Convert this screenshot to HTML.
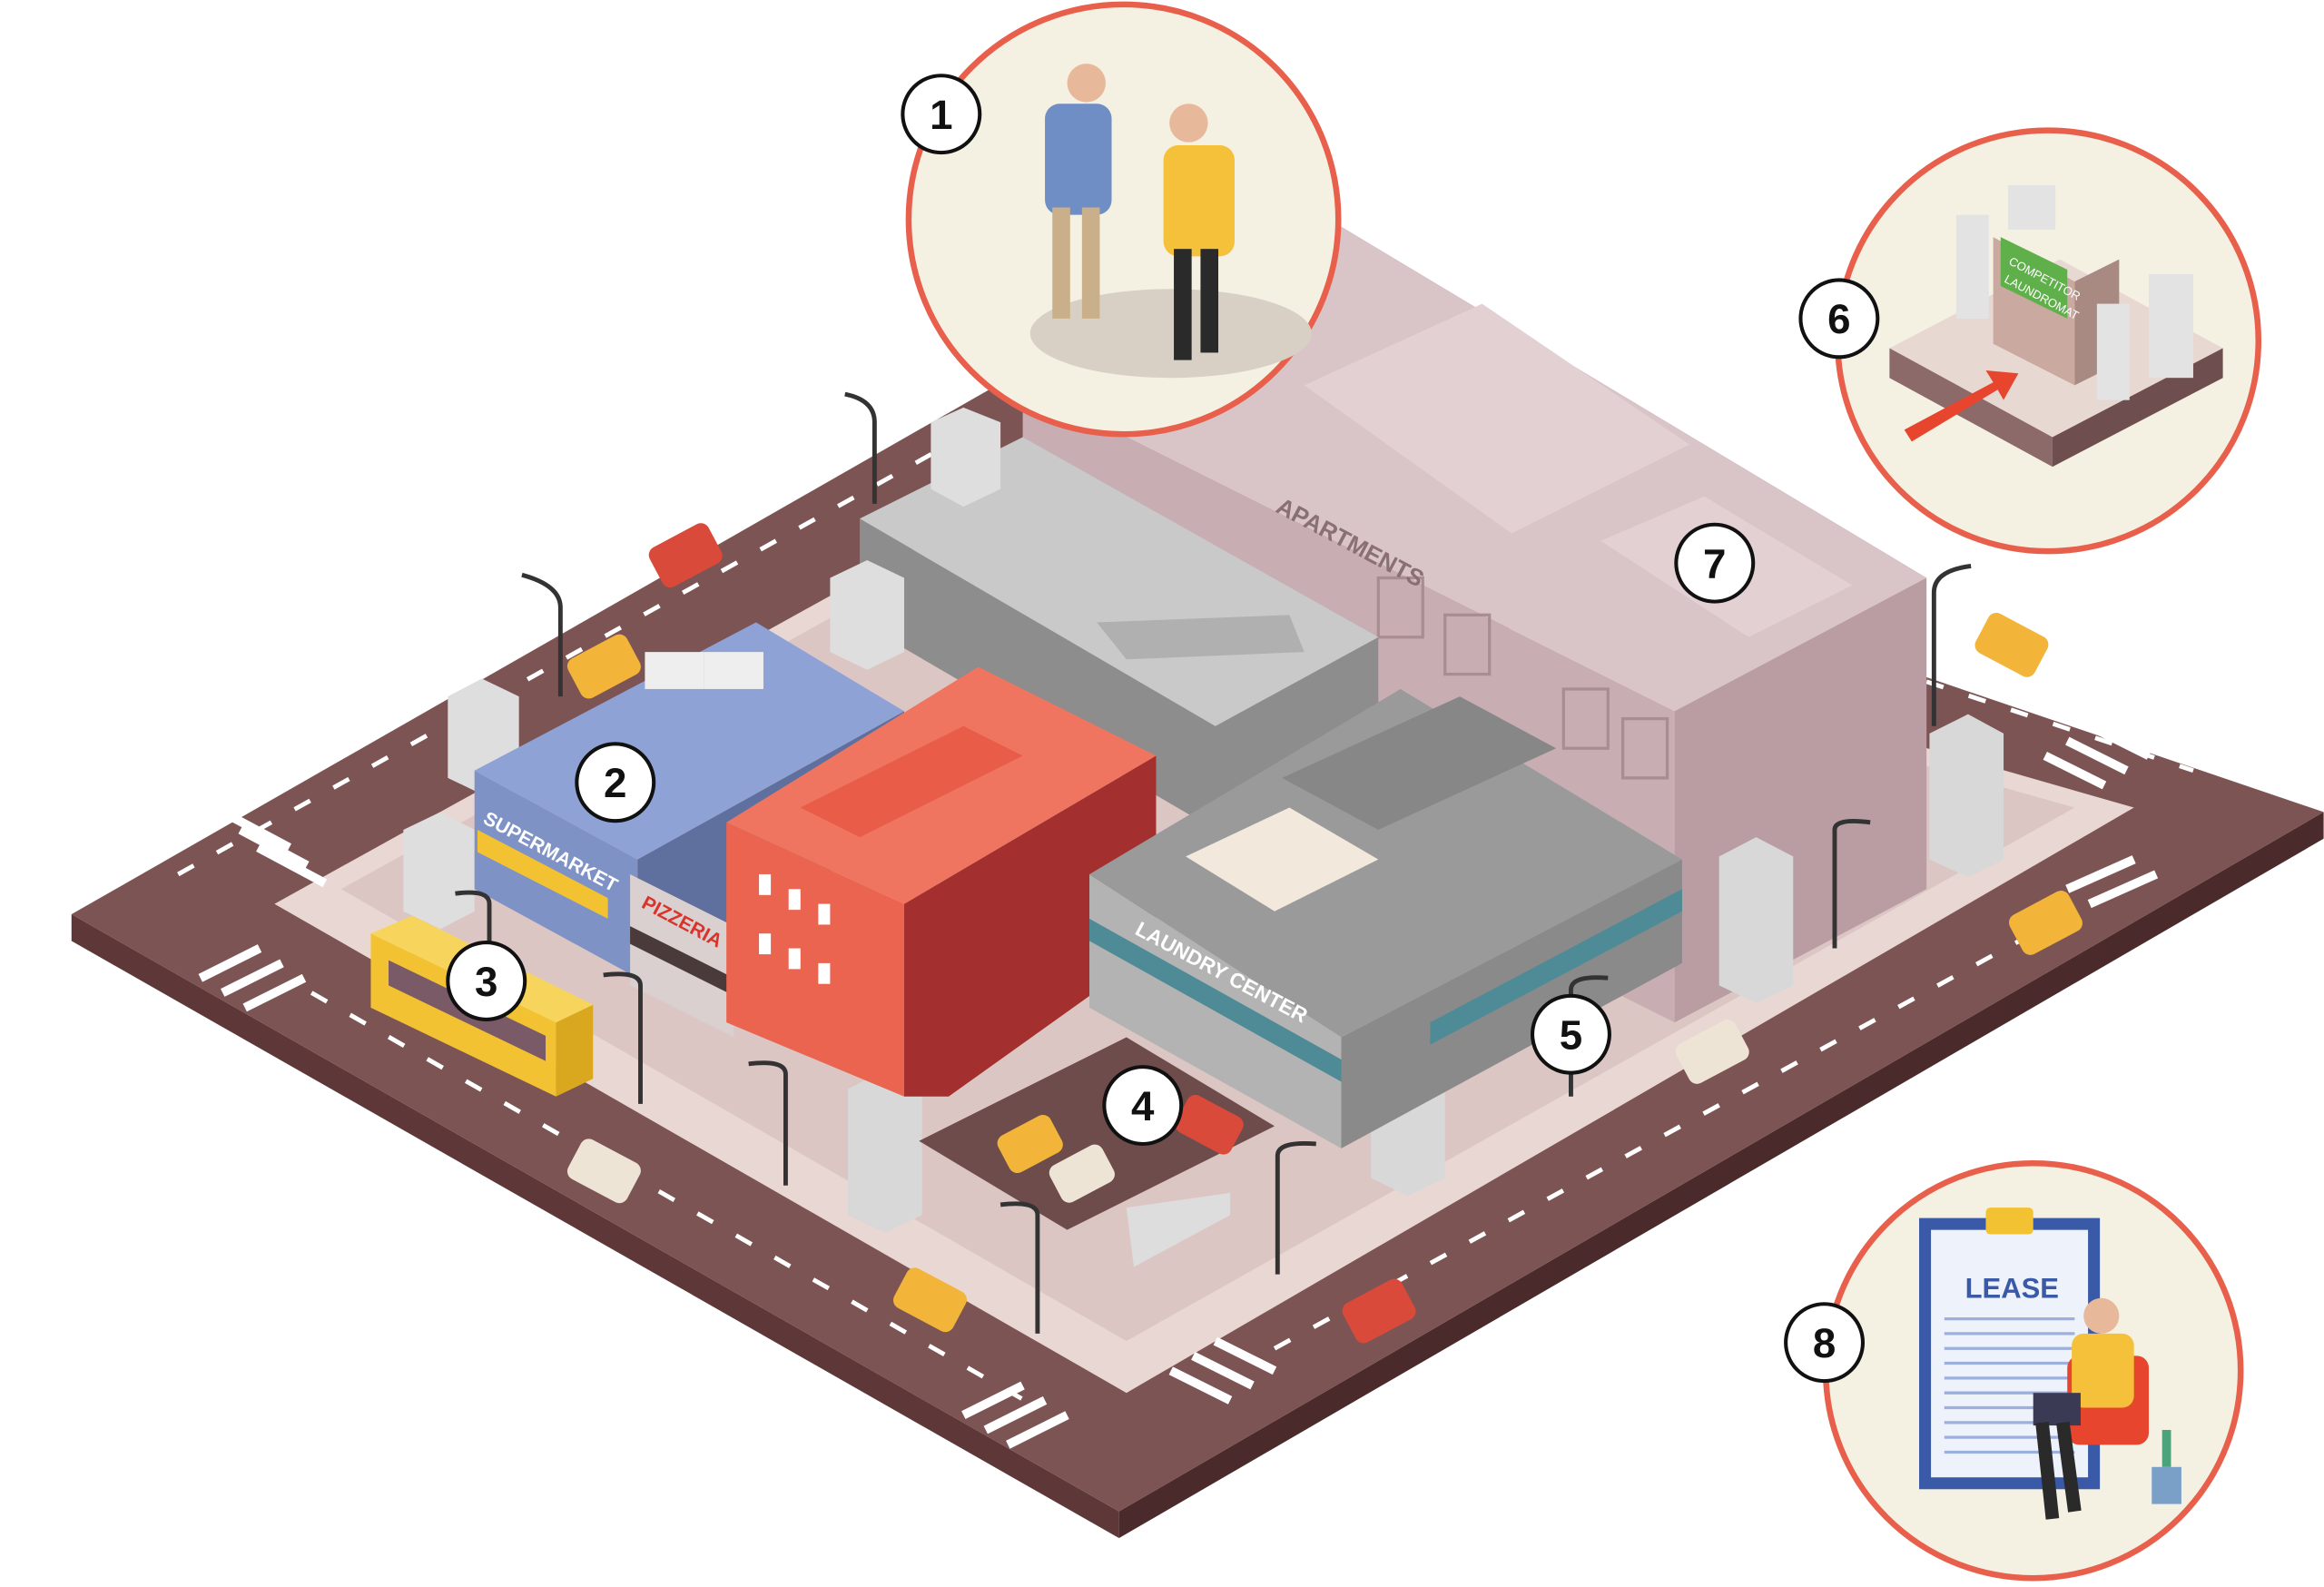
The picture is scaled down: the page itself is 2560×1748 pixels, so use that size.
<!DOCTYPE html>
<html><head><meta charset="utf-8"><style>
html,body{margin:0;padding:0;background:#fff}
svg{display:block}
text{font-family:"Liberation Sans",sans-serif}
</style></head><body>
<svg width="2560" height="1748" viewBox="0 0 1568 1071" xmlns="http://www.w3.org/2000/svg">
<rect width="1568" height="1071" fill="#fff"/>
<!-- road base -->
<polygon points="48,617 48,635 755,1038 755,1020" fill="#5e3838"/>
<polygon points="755,1020 755,1038 1568,566 1568,548" fill="#4a2a2a"/>
<polygon points="48,617 690,250 1568,548 755,1020" fill="#7d5454"/>
<!-- sidewalk block -->
<polygon points="185,610 690,330 1440,545 760,940" fill="#e9d7d3"/>
<polygon points="230,600 690,345 1400,545 760,905" fill="#dcc6c3"/>
<!-- crosswalks -->
<g stroke="#fff" stroke-width="6">
<line x1="150" y1="548" x2="195" y2="572"/><line x1="162" y1="560" x2="207" y2="584"/><line x1="174" y1="572" x2="219" y2="596"/>
<line x1="135" y1="660" x2="175" y2="640"/><line x1="150" y1="670" x2="190" y2="650"/><line x1="165" y1="680" x2="205" y2="660"/>
<line x1="650" y1="955" x2="690" y2="935"/><line x1="665" y1="965" x2="705" y2="945"/><line x1="680" y1="975" x2="720" y2="955"/>
<line x1="790" y1="925" x2="830" y2="945"/><line x1="805" y1="915" x2="845" y2="935"/><line x1="820" y1="905" x2="860" y2="925"/>
<line x1="1380" y1="510" x2="1420" y2="530"/><line x1="1395" y1="500" x2="1435" y2="520"/><line x1="1410" y1="490" x2="1450" y2="510"/>
<line x1="1395" y1="600" x2="1440" y2="580"/><line x1="1410" y1="610" x2="1455" y2="590"/>
</g>
<!-- road dashes -->
<g stroke="#fff" stroke-width="3" stroke-dasharray="12 18">
<line x1="120" y1="590" x2="640" y2="300"/>
<line x1="210" y1="670" x2="700" y2="950"/>
<line x1="860" y1="910" x2="1390" y2="620"/>
<line x1="1300" y1="460" x2="1480" y2="520"/>
</g>
<!-- apartments building 7 -->
<polygon points="690,260 1130,480 1130,690 690,470" fill="#c8aeb2"/>
<polygon points="900,150 1300,390 1300,600 1130,690 1130,480" fill="#b99da3"/>
<polygon points="690,260 900,150 1300,390 1130,480" fill="#d9c4c8"/>
<polygon points="880,260 1000,205 1140,300 1020,360" fill="#e2d0d3"/>
<polygon points="1080,365 1150,335 1250,395 1180,430" fill="#e2d0d3"/>
<g fill="none" stroke="#a88d92" stroke-width="2">
<rect x="1055" y="465" width="30" height="40"/><rect x="1095" y="485" width="30" height="40"/>
<rect x="930" y="390" width="30" height="40"/><rect x="975" y="415" width="30" height="40"/>
</g>
<text x="860" y="345" font-size="16" fill="#8a6f74" font-weight="bold" transform="rotate(28 860 345)">APARTMENTS</text>
<!-- gray building -->
<polygon points="580,350 580,420 820,560 930,500 930,430 820,490" fill="#8d8d8d"/>
<polygon points="580,350 690,295 930,430 820,490" fill="#c9c9c9"/>
<polygon points="740,420 870,415 880,440 760,445" fill="#b0b0b0"/>
<!-- white pillars -->
<g>
<polygon points="302,470 325,458 350,470 350,525 327,537 302,525" fill="#dedede"/>
<polygon points="272,560 297,548 320,560 320,615 297,627 272,615" fill="#dedede"/>
<polygon points="560,390 585,378 610,390 610,440 585,452 560,440" fill="#dedede"/>
<polygon points="628,285 650,275 675,285 675,330 650,342 628,330" fill="#dedede"/>
<polygon points="572,735 597,722 622,735 622,820 597,832 572,820" fill="#d8d8d8"/>
<polygon points="925,710 950,698 975,710 975,795 950,807 925,795" fill="#d8d8d8"/>
<polygon points="1160,578 1185,565 1210,578 1210,665 1185,677 1160,665" fill="#d8d8d8"/>
<polygon points="1302,495 1328,482 1352,495 1352,580 1328,592 1302,580" fill="#d8d8d8"/>
</g>
<!-- blue supermarket -->
<polygon points="320,520 430,580 430,660 320,600" fill="#7e92c6"/>
<polygon points="430,580 610,480 610,560 430,660" fill="#5f6f9e"/>
<polygon points="320,520 510,420 610,480 430,580" fill="#8fa2d6"/>
<rect x="435" y="440" width="40" height="25" fill="#eee"/><rect x="475" y="440" width="40" height="25" fill="#eee"/>
<polygon points="322,560 410,606 410,620 322,575" fill="#f2c233"/>
<text x="325" y="555" font-size="13" fill="#fff" font-weight="bold" transform="rotate(28 325 555)">SUPERMARKET</text>
<!-- pizzeria -->
<polygon points="425,590 495,625 495,700 425,665" fill="#d9d0cf"/>
<polygon points="425,625 495,660 495,672 425,637" fill="#4a3a3a"/>
<text x="432" y="612" font-size="13" fill="#d9342b" font-weight="bold" transform="rotate(28 432 612)">PIZZERIA</text>
<!-- red building -->
<polygon points="490,555 610,610 610,740 490,690" fill="#ea6450"/>
<polygon points="610,610 780,510 780,640 640,740 610,740" fill="#a3302f"/>
<polygon points="490,555 660,450 780,510 610,610" fill="#ef7560"/>
<polygon points="540,545 650,490 690,510 580,565" fill="#e85c48"/>
<g fill="#fff">
<rect x="512" y="590" width="8" height="14"/><rect x="532" y="600" width="8" height="14"/><rect x="552" y="610" width="8" height="14"/>
<rect x="512" y="630" width="8" height="14"/><rect x="532" y="640" width="8" height="14"/><rect x="552" y="650" width="8" height="14"/>
</g>
<!-- laundry building -->
<polygon points="735,590 905,700 905,775 735,680" fill="#b3b3b3"/>
<polygon points="905,700 1135,580 1135,650 905,775" fill="#8a8a8a"/>
<polygon points="735,590 945,465 1135,580 905,700" fill="#9a9a9a"/>
<polygon points="865,525 985,470 1050,505 930,560" fill="#878787"/>
<polygon points="800,578 870,545 930,580 860,615" fill="#f2e8dc"/>
<polygon points="735,620 905,715 905,730 735,635" fill="#4e8b96"/>
<polygon points="965,690 1135,600 1135,615 965,705" fill="#4e8b96"/>
<text x="765" y="630" font-size="14" fill="#fff" font-weight="bold" transform="rotate(28 765 630)">LAUNDRY CENTER</text>
<!-- parking -->
<polygon points="620,770 760,700 860,760 720,830" fill="#6e4c4c"/>
<polygon points="760,815 830,805 830,820 765,855" fill="#ddd"/>
<!-- cars -->
<g>
<rect x="440" y="360" width="45" height="30" rx="6" fill="#d94a3a" transform="rotate(-28 462 375)"/>
<rect x="385" y="435" width="45" height="30" rx="6" fill="#f2b53a" transform="rotate(-28 407 450)"/>
<rect x="1335" y="420" width="45" height="30" rx="6" fill="#f2b53a" transform="rotate(28 1357 435)"/>
<rect x="1358" y="608" width="45" height="30" rx="6" fill="#f2b53a" transform="rotate(-28 1380 623)"/>
<rect x="1133" y="695" width="45" height="30" rx="6" fill="#ede4d6" transform="rotate(-28 1155 710)"/>
<rect x="908" y="870" width="45" height="30" rx="6" fill="#d94a3a" transform="rotate(-28 930 885)"/>
<rect x="605" y="862" width="45" height="30" rx="6" fill="#f2b53a" transform="rotate(28 627 877)"/>
<rect x="385" y="775" width="45" height="30" rx="6" fill="#ede4d6" transform="rotate(28 407 790)"/>
<rect x="675" y="758" width="40" height="28" rx="6" fill="#f2b53a" transform="rotate(-28 695 772)"/>
<rect x="710" y="778" width="40" height="28" rx="6" fill="#ede4d6" transform="rotate(-28 730 792)"/>
<rect x="795" y="745" width="42" height="28" rx="6" fill="#d94a3a" transform="rotate(28 816 759)"/>
<!-- bus -->
<polygon points="250,630 375,690 375,740 250,680" fill="#f2c233"/>
<polygon points="375,690 400,678 400,728 375,740" fill="#d9a81f"/>
<polygon points="250,630 278,618 400,678 375,690" fill="#f7d55c"/>
<polygon points="262,648 368,699 368,716 262,665" fill="#7a5a66"/>
</g>
<!-- lamp posts -->
<g stroke="#333" stroke-width="3" fill="none">
<path d="M590,340 V285 Q590,270 570,266"/><path d="M378,470 V410 Q378,395 352,388"/>
<path d="M1305,490 V400 Q1305,385 1330,382"/><path d="M1238,640 V560 Q1238,552 1262,555"/>
<path d="M1060,740 V668 Q1060,658 1085,660"/><path d="M862,860 V780 Q862,770 888,772"/>
<path d="M700,900 V820 Q700,810 675,813"/><path d="M530,800 V725 Q530,715 505,718"/>
<path d="M432,745 V665 Q432,655 407,658"/><path d="M330,640 V610 Q330,600 307,603"/>
</g>
<!-- circle 1 -->
<circle cx="758" cy="148" r="145" fill="#f5f1e2" stroke="#e8604c" stroke-width="4"/>
<ellipse cx="790" cy="225" rx="95" ry="30" fill="#d9d0c5"/>
<rect x="705" y="70" width="45" height="75" rx="10" fill="#6f8ec5"/>
<rect x="710" y="140" width="12" height="75" fill="#c9b08b"/><rect x="730" y="140" width="12" height="75" fill="#c9b08b"/>
<circle cx="733" cy="56" r="13" fill="#e8b89a"/>
<rect x="785" y="98" width="48" height="75" rx="10" fill="#f5c13a"/>
<rect x="792" y="168" width="12" height="75" fill="#2a2a2a"/><rect x="810" y="168" width="12" height="70" fill="#2a2a2a"/>
<circle cx="802" cy="83" r="13" fill="#e8b89a"/>
<!-- circle 6 -->
<circle cx="1382" cy="230" r="142" fill="#f5f1e2" stroke="#e8604c" stroke-width="4"/>
<polygon points="1275,235 1390,175 1500,235 1385,295" fill="#e8d8d2"/>
<polygon points="1275,235 1385,295 1385,315 1275,255" fill="#8c6a6a"/>
<polygon points="1385,295 1500,235 1500,255 1385,315" fill="#6e4e4e"/>
<polygon points="1345,160 1400,190 1400,260 1345,232" fill="#c9a9a0"/>
<polygon points="1400,190 1430,175 1430,245 1400,260" fill="#a88a82"/>
<polygon points="1350,160 1395,182 1395,215 1350,193" fill="#5fb04a"/>
<text x="1355" y="178" font-size="8" fill="#fff" transform="rotate(28 1355 178)">COMPETITOR</text>
<text x="1352" y="190" font-size="8" fill="#fff" transform="rotate(28 1352 190)">LAUNDROMAT</text>
<rect x="1320" y="145" width="22" height="70" fill="#e3e3e3"/><rect x="1415" y="205" width="22" height="65" fill="#e3e3e3"/><rect x="1450" y="185" width="30" height="70" fill="#e3e3e3"/><rect x="1355" y="125" width="32" height="30" fill="#e3e3e3"/>
<polygon points="1285,290 1345,258 1340,250 1362,252 1352,270 1348,263 1290,298" fill="#e8452f"/>
<!-- circle 8 -->
<circle cx="1372" cy="925" r="140" fill="#f5f1e2" stroke="#e8604c" stroke-width="4"/>
<rect x="1295" y="822" width="122" height="183" fill="#3a5aa8"/>
<rect x="1303" y="830" width="106" height="167" fill="#eef2fa"/>
<rect x="1340" y="815" width="32" height="18" rx="3" fill="#f2c233"/>
<text x="1326" y="876" font-size="19" font-weight="bold" fill="#3a5aa8">LEASE</text>
<g stroke="#9bb0dc" stroke-width="2"><line x1="1312" y1="890" x2="1400" y2="890"/><line x1="1312" y1="900" x2="1400" y2="900"/><line x1="1312" y1="910" x2="1400" y2="910"/><line x1="1312" y1="920" x2="1400" y2="920"/><line x1="1312" y1="930" x2="1400" y2="930"/><line x1="1312" y1="940" x2="1400" y2="940"/><line x1="1312" y1="950" x2="1400" y2="950"/><line x1="1312" y1="960" x2="1400" y2="960"/><line x1="1312" y1="970" x2="1400" y2="970"/><line x1="1312" y1="980" x2="1400" y2="980"/></g>
<rect x="1395" y="915" width="55" height="60" rx="8" fill="#e8452f"/>
<rect x="1398" y="900" width="42" height="50" rx="8" fill="#f5c13a"/>
<circle cx="1418" cy="888" r="12" fill="#e8b89a"/>
<rect x="1372" y="940" width="32" height="22" fill="#3a3a55"/>
<path d="M1378,960 L1385,1025 M1392,960 L1400,1020" stroke="#2a2a2a" stroke-width="9"/>
<rect x="1452" y="990" width="20" height="25" fill="#7aa0c8"/><path d="M1462,990 V965" stroke="#4aa37a" stroke-width="6"/>
<!-- number badges -->
<g fill="#fff" stroke="#111" stroke-width="2.5">
<circle cx="635" cy="77" r="26"/><circle cx="415" cy="528" r="26"/><circle cx="328" cy="662" r="26"/><circle cx="771" cy="746" r="26"/>
<circle cx="1060" cy="698" r="26"/><circle cx="1241" cy="215" r="26"/><circle cx="1157" cy="380" r="26"/><circle cx="1231" cy="906" r="26"/>
</g>
<g font-size="28" font-weight="bold" fill="#111" text-anchor="middle">
<text x="635" y="87">1</text><text x="415" y="538">2</text><text x="328" y="672">3</text><text x="771" y="756">4</text>
<text x="1060" y="708">5</text><text x="1241" y="225">6</text><text x="1157" y="390">7</text><text x="1231" y="916">8</text>
</g>
</svg>
</body></html>
